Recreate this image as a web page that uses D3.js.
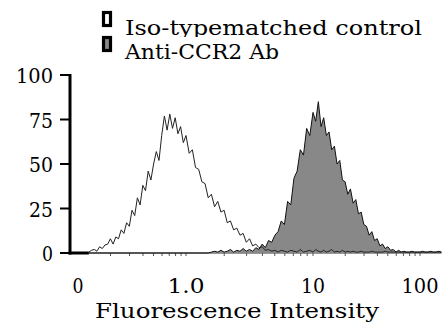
<!DOCTYPE html>
<html>
<head>
<meta charset="utf-8">
<script src="https://cdn.jsdelivr.net/npm/d3@7"></script>
<style>
    html, body { margin: 0; padding: 0; background: #fff; }
    svg { display: block; }
    svg text { font-family: "DejaVu Serif", "Liberation Serif", serif; fill: #000; }
</style>
</head>
<body>
<div id="chart"></div>
<script>
// y axis (% of max)
const yTicks = [0, 25, 50, 75, 100];

// x axis: decades (log10 of intensity) and their printed labels
const xDecades = [-1, 0, 1, 2];
const xTickLabels = ["0", "1.0", "10", "100"];
const minorSteps = [2, 3, 4, 5, 6, 7, 8, 9, 10];

// histogram channels: log10 position of first channel and channel width
const channelStart = -0.9;
const channelStep = 0.025;

const controlCounts = [
    0.5, 1.5, 2, 1, 3.5, 2.5, 4.5, 5, 8, 5,
    9, 8, 13, 11, 17, 15, 24, 21, 31, 27,
    38, 35, 46, 41, 50, 57, 52, 66, 77, 69,
    78, 70, 76, 67, 71, 62, 66, 56, 58, 48,
    47, 40, 39, 31, 33, 26, 29, 23, 24, 17,
    18, 13, 14, 10, 11, 6, 8, 4, 5, 3,
    3.5, 1.5, 2, 1, 1.5, 0.5, 1.5, 1, 0.5, 1.5,
    1, 0.5, 2, 0.5, 1, 1.5, 0.5, 2, 1, 0.5,
    1.5, 0.5, 1, 2, 0.5, 1, 0.5, 1.5, 0.5, 1,
    0.5, 1, 0.5, 0.5, 1, 0.5, 0.5, 0.5, 1, 0.5,
    0.5, 0.5, 0.5, 1, 0.5, 0.5, 0.5, 0.5, 0.5, 0.5,
    0.5, 0.5, 0.5, 0.5, 0.5, 0.5, 0.5, 0.5, 0.5, 0.5,
    0.5, 0.5, 0.5, 0.5, 0.5
];

const antiCounts = [
    0, 0, 0, 0, 0, 0, 0, 0, 0, 0,
    0, 0, 0, 0, 0, 0, 0, 0, 0, 0,
    0, 0, 0, 0, 0, 0, 0, 0, 0, 0,
    0, 0, 0, 0, 0, 0, 0, 0, 0, 0,
    0, 0, 0, 0,
    0.5, 1, 0.5, 1.5, 0.5, 1, 2, 0.5, 1.5, 1, 2.5, 1,
    2, 1, 3, 2, 5, 3, 7, 6, 10, 12,
    18, 16, 29, 27, 42, 46, 58, 55, 70, 66,
    79, 74, 85, 71, 76, 66, 68, 58, 60, 50,
    52, 41, 40, 33, 36, 28, 30, 22, 23, 16,
    15, 10, 12, 7, 8, 4, 5, 2.5, 3.5, 1.5,
    2, 0.5, 1.5, 0.5, 1, 0.5, 0.5, 1, 0.5, 0.5,
    0.5, 1, 0.5, 0.5, 1, 0.5, 0.5, 1, 0.5
];

const legendLabels = ["Iso-typematched control", "Anti-CCR2 Ab"];
const legendFills = ["#fff", "#888"];
const axisTitle = "Fluorescence Intensity";

const W = 446, H = 322;
const axisX = 70;
const charW = 13;
const fontSize = 21;

const svg = d3.select("#chart").append("svg")
    .attr("width", W)
    .attr("height", H)
    .attr("viewBox", `0 0 ${W} ${H}`);

const x = d3.scaleLinear()
    .domain(xDecades)
    .range([78, 186, 313, 420]);

const y = d3.scaleLinear()
    .domain([0, 100])
    .range([253, 75]);

const chX = i => x(channelStart + i * channelStep);
const lastCh = controlCounts.length - 1;

// spread text to a fixed pitch, like the monospaced original
function label(sel, str){
    sel.text(str)
        .attr("font-family", "DejaVu Serif")
        .attr("font-size", fontSize)
        .attr("textLength", str.length * charW - 2)
        .attr("lengthAdjust", "spacingAndGlyphs");
}

// baseline + minor log ticks
svg.append("line")
    .attr("x1", axisX).attr("x2", chX(lastCh))
    .attr("y1", y(0)).attr("y2", y(0))
    .attr("stroke", "#333").attr("stroke-width", 1);

const minorTicks = [];
xDecades.forEach(d => minorSteps.forEach(s => {
    const v = d + Math.log10(s);
    if (v > channelStart && v <= channelStart + lastCh * channelStep) minorTicks.push(v);
}));

svg.append("g").selectAll("line")
    .data(minorTicks)
    .enter()
    .append("line")
        .attr("x1", d => x(d)).attr("x2", d => x(d))
        .attr("y1", y(0)).attr("y2", y(0) + 3)
        .attr("stroke", "#555").attr("stroke-width", 1);

// histograms
const area = d3.area()
    .x((d, i) => chX(i))
    .y0(y(0))
    .y1(d => y(d));

const line = d3.line()
    .x((d, i) => chX(i))
    .y(d => y(d));

svg.append("path")
    .datum(antiCounts)
    .attr("d", area)
    .attr("fill", legendFills[1]);

svg.append("path")
    .datum(antiCounts)
    .attr("d", line)
    .attr("fill", "none")
    .attr("stroke", "#111")
    .attr("stroke-width", 1);

svg.append("path")
    .datum(controlCounts)
    .attr("d", line)
    .attr("fill", "none")
    .attr("stroke", "#222")
    .attr("stroke-width", 1);

// thick start of the x axis
svg.append("line")
    .attr("x1", axisX - 1.5).attr("x2", chX(0))
    .attr("y1", y(0)).attr("y2", y(0))
    .attr("stroke", "#000").attr("stroke-width", 3);

// y axis
svg.append("line")
    .attr("x1", axisX).attr("x2", axisX)
    .attr("y1", y(100) - 1).attr("y2", y(0) + 1.5)
    .attr("stroke", "#000").attr("stroke-width", 3);

const yAxis = svg.append("g");
yAxis.selectAll("line")
    .data(yTicks)
    .enter()
    .append("line")
        .attr("x1", axisX - 10).attr("x2", axisX)
        .attr("y1", d => y(d)).attr("y2", d => y(d))
        .attr("stroke", "#000").attr("stroke-width", 2);

yAxis.selectAll("text")
    .data(yTicks)
    .enter()
    .append("text")
        .attr("x", 53)
        .attr("y", d => y(d) + 8)
        .attr("text-anchor", "end")
        .each(function(d){ label(d3.select(this), String(d)); });

// x labels
svg.append("g").selectAll("text")
    .data(xDecades)
    .enter()
    .append("text")
        .attr("x", d => x(d))
        .attr("y", 293)
        .attr("text-anchor", "middle")
        .each(function(d, i){ label(d3.select(this), xTickLabels[i]); });

svg.append("text")
    .attr("x", 237)
    .attr("y", 318)
    .attr("text-anchor", "middle")
    .call(label, axisTitle);

// legend
svg.append("defs").append("clipPath")
    .attr("id", "legend-clip")
    .append("rect")
        .attr("x", 0).attr("y", 0)
        .attr("width", W).attr("height", 37);

const legend = svg.append("g");
legendLabels.forEach((name, i) => {
    const top = 12.5 + i * 25;
    legend.append("rect")
        .attr("x", 103.5).attr("y", top)
        .attr("width", 7).attr("height", 13)
        .attr("fill", legendFills[i])
        .attr("stroke", "#000").attr("stroke-width", 3.2);
    legend.append("text")
        .attr("x", 125)
        .attr("y", 35 + i * 24)
        .attr("clip-path", i === 0 ? "url(#legend-clip)" : null)
        .call(label, name);
});
</script>
</body>
</html>
